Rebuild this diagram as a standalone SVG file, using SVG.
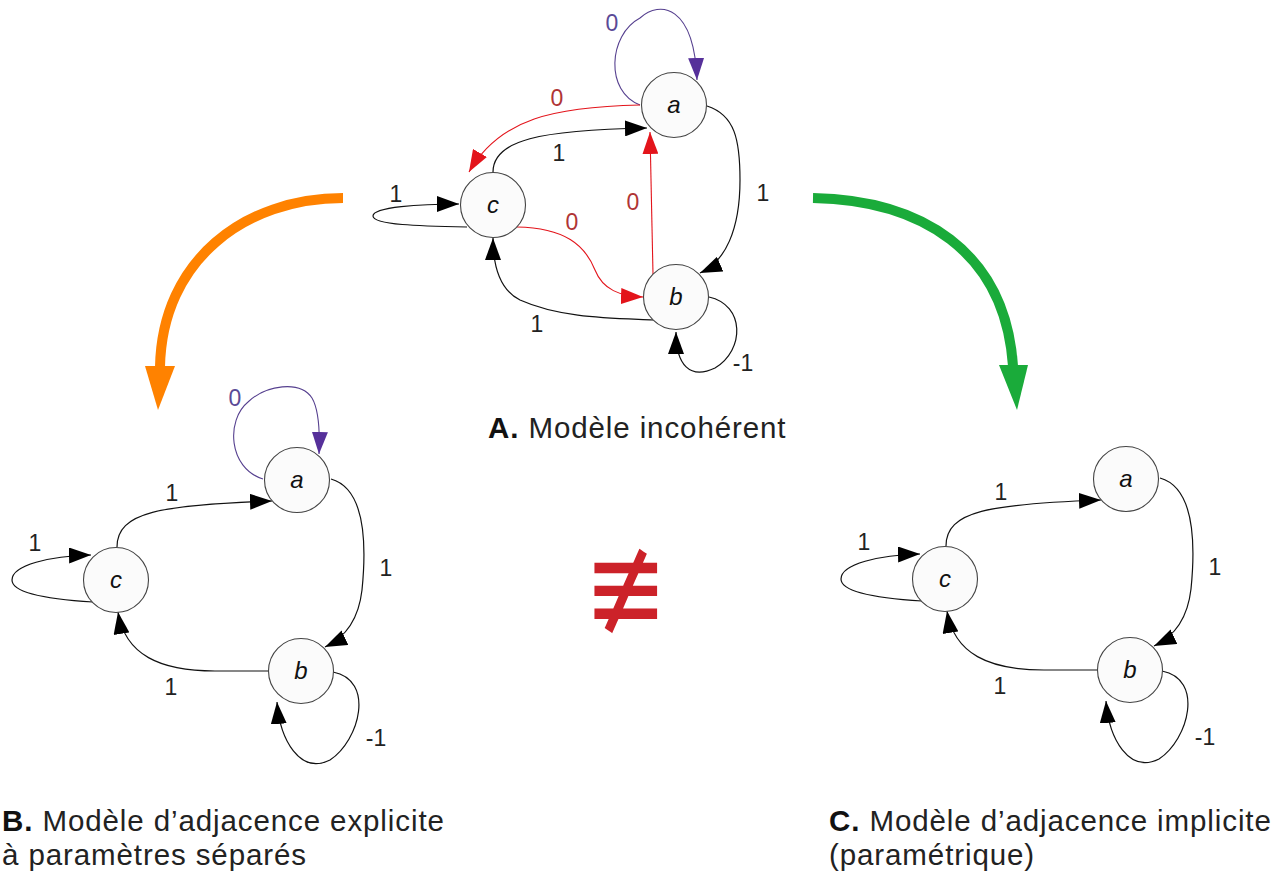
<svg xmlns="http://www.w3.org/2000/svg" width="1287" height="874" viewBox="0 0 1287 874">
<style>
.node circle{fill:#fbfbfb;stroke:#444;stroke-width:1.1}
.node text{font-family:"Liberation Sans",Arial,sans-serif;font-style:italic;font-size:24px;fill:#111;text-anchor:middle}
.e{fill:none;stroke:#111;stroke-width:1.2;marker-end:url(#ak)}
.er{fill:none;stroke:#e3141b;stroke-width:1.1;marker-end:url(#ar)}
.ep{fill:none;stroke:#56408f;stroke-width:1.1;marker-end:url(#ap)}
.lb{font-family:"Liberation Sans",Arial,sans-serif;font-size:23px;fill:#222;text-anchor:middle}
.lr{fill:#b03535}
.lp{fill:#5b4a96}
.cap{font-family:"Liberation Sans",Arial,sans-serif;font-size:29.5px;letter-spacing:0.9px;fill:#222}
.cap tspan.b{font-weight:bold;fill:#111}
</style>
<defs>
<marker id="ak" viewBox="0 0 22 16" refX="22" refY="8" markerWidth="22" markerHeight="16" markerUnits="userSpaceOnUse" orient="auto"><path d="M0,0 L22,8 L0,16 z" fill="#000"/></marker>
<marker id="ar" viewBox="0 0 22 16" refX="22" refY="8" markerWidth="22" markerHeight="16" markerUnits="userSpaceOnUse" orient="auto"><path d="M0,0 L22,8 L0,16 z" fill="#e3141b"/></marker>
<marker id="ap" viewBox="0 0 22 16" refX="22" refY="8" markerWidth="22" markerHeight="16" markerUnits="userSpaceOnUse" orient="auto"><path d="M0,0 L22,8 L0,16 z" fill="#56309a"/></marker>
</defs>

<g id="connectors">
  <!-- big transition arrows -->
  <path d="M343,198 C245,198 162,260 160,367" fill="none" stroke="#ff8200" stroke-width="10"/>
  <path d="M145,366 L175,366 L158,410 z" fill="#ff8200"/>
  <path d="M813,198 C920,200 1005,250 1013,366" fill="none" stroke="#1aab3a" stroke-width="10"/>
  <path d="M999,365 L1028,365 L1017,410 z" fill="#1aab3a"/>

  <!-- Graph A -->
  <path class="ep" d="M640,105 C605,92 608,35 640,18 C660,0 694,5 697,80"/>
  <path class="er" d="M640,105 C555,107 500,118 469,172"/>
  <path class="er" d="M653,274 L650,132"/>
  <path class="er" d="M517,227 C565,228 585,245 595,270 C603,290 620,296 643,297"/>
  <path class="e" d="M493,172 C493,140 540,130 647,128"/>
  <path class="e" d="M707,106 C735,115 740,140 740,180 C740,230 725,262 700,273"/>
  <path class="e" d="M653,320 C610,318 560,318 520,300 C500,290 493,265 493,238"/>
  <path class="e" d="M709,297 C745,305 745,350 715,368 C690,380 676,365 676,332"/>
  <path class="e" d="M467,227 C420,226 373,225 373,216 C373,207 420,204 459,204"/>
  <text class="lb lp" x="612" y="31">0</text>
  <text class="lb lr" x="557" y="106">0</text>
  <text class="lb lr" x="633" y="210">0</text>
  <text class="lb lr" x="572" y="230">0</text>
  <text class="lb" x="559" y="161">1</text>
  <text class="lb" x="763" y="201">1</text>
  <text class="lb" x="537" y="332">1</text>
  <text class="lb" x="743" y="371">-1</text>
  <text class="lb" x="396" y="202">1</text>

  <!-- Graph B -->
  <path class="ep" d="M263,479 C228,468 226,420 248,402 C266,385 300,380 312,398 C319,410 320,430 319,454"/>
  <path class="e" d="M117,547 C117,512 160,505 272,501"/>
  <path class="e" d="M331,479 C370,490 365,560 362,590 C358,625 340,640 325,647"/>
  <path class="e" d="M268,671 L215,671 C160,671 125,655 118,612"/>
  <path class="e" d="M333,672 C375,680 360,740 330,760 C300,775 280,740 277,702"/>
  <path class="e" d="M93,602 C60,600 12,595 12,580 C12,565 50,556 91,555"/>
  <text class="lb lp" x="235" y="406">0</text>
  <text class="lb" x="172" y="501">1</text>
  <text class="lb" x="386" y="576">1</text>
  <text class="lb" x="171" y="695">1</text>
  <text class="lb" x="376" y="746">-1</text>
  <text class="lb" x="35" y="551">1</text>

  <!-- Graph C -->
  <g transform="translate(829,-1)">
    <path class="e" d="M117,547 C117,512 160,505 272,501"/>
    <path class="e" d="M331,479 C370,490 365,560 362,590 C358,625 340,640 325,647"/>
    <path class="e" d="M268,671 L215,671 C160,671 125,655 118,612"/>
    <path class="e" d="M333,672 C375,680 360,740 330,760 C300,775 280,740 277,702"/>
    <path class="e" d="M93,602 C60,600 12,595 12,580 C12,565 50,556 91,555"/>
    <text class="lb" x="172" y="501">1</text>
    <text class="lb" x="386" y="576">1</text>
    <text class="lb" x="171" y="695">1</text>
    <text class="lb" x="376" y="746">-1</text>
    <text class="lb" x="35" y="551">1</text>
  </g>
</g>

<!-- Graph A nodes -->
<g id="A-a" class="node"><circle cx="674" cy="105" r="32.5"/><text x="674" y="113">a</text></g>
<g id="A-b" class="node"><circle cx="676" cy="297" r="32.5"/><text x="676" y="305">b</text></g>
<g id="A-c" class="node"><circle cx="493" cy="205" r="32.5"/><text x="493" y="213">c</text></g>
<!-- Graph B nodes -->
<g id="B-a" class="node"><circle cx="297" cy="480" r="32.5"/><text x="297" y="488">a</text></g>
<g id="B-b" class="node"><circle cx="301" cy="671" r="32.5"/><text x="301" y="679">b</text></g>
<g id="B-c" class="node"><circle cx="116" cy="580" r="32.5"/><text x="116" y="588">c</text></g>
<!-- Graph C nodes -->
<g id="C-a" class="node"><circle cx="1126" cy="479" r="32.5"/><text x="1126" y="487">a</text></g>
<g id="C-b" class="node"><circle cx="1130" cy="670" r="32.5"/><text x="1130" y="678">b</text></g>
<g id="C-c" class="node"><circle cx="945" cy="579" r="32.5"/><text x="945" y="587">c</text></g>

<g id="captions">
  <text class="cap" x="488" y="438"><tspan class="b">A.</tspan> Modèle incohérent</text>
  <text class="cap" x="2" y="831"><tspan class="b">B.</tspan> Modèle d’adjacence explicite</text>
  <text class="cap" x="2" y="865">à paramètres séparés</text>
  <text class="cap" x="829" y="831"><tspan class="b">C.</tspan> Modèle d’adjacence implicite</text>
  <text class="cap" x="829" y="865">(paramétrique)</text>
</g>

<g id="not-equiv">
  <text x="626" y="625" transform="matrix(1 0 0 1.25 0 -151)" font-family="DejaVu Sans, sans-serif" font-size="100" fill="#cc2229" text-anchor="middle">≢</text>
</g>
</svg>
